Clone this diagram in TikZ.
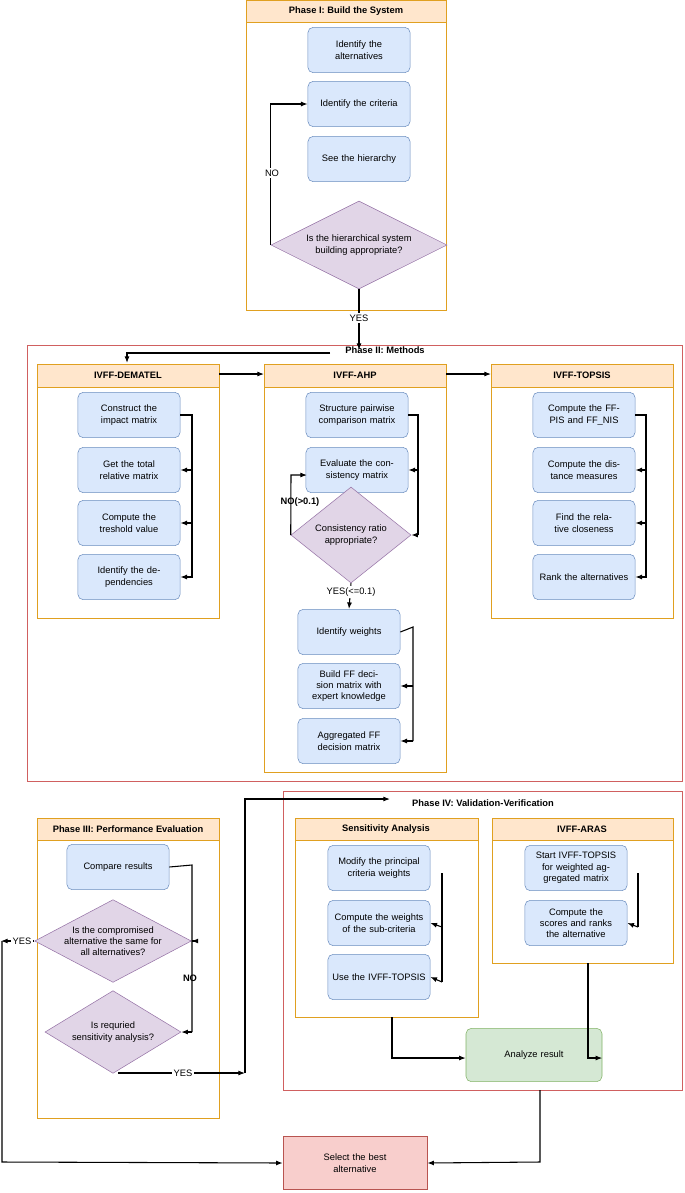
\documentclass[tikz,border=0pt]{standalone}
\usepackage{fontspec}
\setmainfont{Liberation Sans}
\usetikzlibrary{shapes.geometric,arrows.meta,positioning}
\definecolor{stepfill}{HTML}{DAE8FC}
\definecolor{stepline}{HTML}{6C8EBF}
\definecolor{askfill}{HTML}{E1D5E7}
\definecolor{askline}{HTML}{9673A6}
\definecolor{lanefill}{HTML}{FFE6CC}
\definecolor{laneline}{HTML}{E0A020}
\definecolor{phaseline}{HTML}{D06060}
\definecolor{endfill}{HTML}{F8CECC}
\definecolor{endline}{HTML}{B85450}
\definecolor{resfill}{HTML}{D5E8D4}
\definecolor{resline}{HTML}{82B366}
\tikzset{
  task/.style={draw=stepline,fill=stepfill,rounded corners=4pt,minimum width=75pt,minimum height=34pt,text width=70pt,align=center,font=\fontsize{7}{8.5}\selectfont},
  ask/.style={diamond,draw=askline,fill=askfill,aspect=2,inner sep=0pt,align=center,font=\fontsize{7}{8.5}\selectfont},
  lane/.style={draw=laneline},
  head/.style={draw=laneline,fill=lanefill,font=\fontsize{7}{8.5}\selectfont\bfseries},
  flow/.style={-{Latex[length=5pt]},thick},
  lbl/.style={fill=white,inner sep=1pt,font=\fontsize{7}{8.5}\selectfont}
}
\begin{document}
\begin{tikzpicture}[x=0.75pt,y=-0.75pt]
\useasboundingbox (0,0) rectangle (685,1193);
% phase I
\draw[lane] (246,0) rectangle (446,310);
\draw[head] (246,0) rectangle (446,22);
\node[font=\fontsize{7}{8.5}\selectfont\bfseries] at (346,11) {Phase I: Build the System};
\node[task] (alt) at (359,50) {Identify the alternatives};
\node[task] (crit) at (359,104) {Identify the criteria};
\node[task] (hier) at (359,159) {See the hierarchy};
\node[ask,minimum width=132pt,minimum height=66pt] (sys) at (359,245) {Is the hierarchical system\\building appropriate?};
\draw[flow] (sys.west) -- ++(0,-141) -- (crit.west);
\node[lbl] at (272,173) {NO};
% phase II
\draw[phaseline] (27,345) rectangle (682,781);
\node[font=\fontsize{7}{8.5}\selectfont\bfseries] (ptwo) at (385,350) {Phase II: Methods};
\coordinate (split) at (359,350);
\draw[flow] (sys.south) -- (split);
\node[lbl] at (359,318) {YES};
\foreach \nm/\xx/\ttl/\bot in {dem/37/IVFF-DEMATEL/618,ahp/264/IVFF-AHP/772,top/491/IVFF-TOPSIS/618} {
  \draw[lane] (\xx,364) rectangle (\xx+182,\bot);
  \draw[head] (\xx,364) rectangle (\xx+182,387);
  \node[font=\fontsize{7}{8.5}\selectfont\bfseries] (\nm) at (\xx+91,375.5) {\ttl};
}
\draw[flow] (330,353) -- (127,353) -- (127,363);
\draw[flow] (219,374) -- (264,374);
\draw[flow] (446,374) -- (491,374);
% DEMATEL
\node[task] (d1) at (129,415) {Construct the impact matrix};
\node[task] (d2) at (129,470) {Get the total relative matrix};
\node[task] (d3) at (129,523) {Compute the treshold value};
\node[task] (d4) at (129,577) {Identify the dependencies};
\draw[thick] (d1.east) -- (192,415) -- (192,578);
\foreach \b in {d2,d3,d4} \draw[flow] (192,0 |- \b.east) -- (\b.east);
% TOPSIS
\node[task] (t1) at (584,415) {Compute the FF-PIS and FF\_NIS};
\node[task] (t2) at (584,470) {Compute the distance measures};
\node[task] (t3) at (584,523) {Find the relative closeness};
\node[task] (t4) at (584,577) {Rank the alternatives};
\draw[thick] (t1.east) -- (646,415) -- (646,578);
\foreach \b in {t2,t3,t4} \draw[flow] (646,0 |- \b.east) -- (\b.east);
% AHP
\node[task] (a1) at (357,415) {Structure pairwise comparison matrix};
\node[task] (a2) at (357,470) {Evaluate the consistency matrix};
\node[ask,minimum width=90pt,minimum height=72pt] (cr) at (351,535) {Consistency ratio\\appropriate?};
\draw[thick] (a1.east) -- (418,415) -- (418,535);
\draw[flow] (418,470) -- (a2.east);
\draw[flow] (418,535) -- (cr.east);
\draw[flow] (cr.west) -- (291,475) -- (307,475);
\node[font=\fontsize{7}{8.5}\selectfont\bfseries] at (300,502) {NO(>0.1)};
\node[task] (w1) at (349,632) {Identify weights};
\node[task] (w2) at (349,686) {Build FF decision matrix with expert knowledge};
\node[task] (w3) at (349,741) {Aggregated FF decision matrix};
\draw[flow] (cr.south) -- (w1.north);
\node[lbl] at (351,592) {YES(<=0.1)};
\draw[thick] (w1.east) -- (413,627) -- (413,741);
\foreach \b in {w2,w3} \draw[flow] (413,0 |- \b.east) -- (\b.east);
% phase III
\draw[lane] (37,818) rectangle (219,1118);
\draw[head] (37,818) rectangle (219,840);
\node[font=\fontsize{7}{8.5}\selectfont\bfseries] at (128,829) {Phase III: Performance Evaluation};
\node[task] (cmp) at (118,867) {Compare results};
\node[ask,minimum width=102pt,minimum height=62pt] (same) at (113,941) {Is the compromised\\alternative the same for\\all alternatives?};
\node[ask,minimum width=102pt,minimum height=62pt] (sens) at (113,1032) {Is requried\\sensitivity analysis?};
\draw[thick] (cmp.east) -- (192,865) -- (192,1032);
\draw[flow] (192,941) -- (same.east);
\draw[flow] (192,1032) -- (sens.east);
\node[font=\fontsize{7}{8.5}\selectfont\bfseries] at (190,978) {NO};
% phase IV
\draw[phaseline] (283,791) rectangle (682,1090);
\node[font=\fontsize{7}{8.5}\selectfont\bfseries] (pfour) at (483,803) {Phase IV: Validation-Verification};
\draw[lane] (295,818) rectangle (478,1017);
\draw[head] (295,818) rectangle (478,840);
\node[font=\fontsize{7}{8.5}\selectfont\bfseries] at (386,829) {Sensitivity Analysis};
\draw[lane] (492,818) rectangle (673,963);
\draw[head] (492,818) rectangle (673,840);
\node[font=\fontsize{7}{8.5}\selectfont\bfseries] at (582,829) {IVFF-ARAS};
\node[task] (s1) at (379,868) {Modify the principal criteria weights};
\node[task] (s2) at (379,923) {Compute the weights of the sub-criteria};
\node[task] (s3) at (379,977) {Use the IVFF-TOPSIS};
\draw[thick] (442,873) -- (442,982);
\draw[flow] (442,927) -- (s2.east);
\draw[flow] (442,982) -- (s3.east);
\node[task] (r1) at (576,868) {Start IVFF-TOPSIS for weighted aggregated matrix};
\node[task] (r2) at (576,923) {Compute the scores and ranks the alternative};
\draw[thick] (638,873) -- (638,927);
\draw[flow] (638,927) -- (r2.east);
\node[task,draw=resline,fill=resfill,minimum width=102pt,minimum height=40pt] (res) at (534,1055) {Analyze result};
\draw[flow] (392,1017) -- (392,1058) -- (res.west |- 0,1058);
\draw[flow] (588,963) -- (588,1058) -- (res.east |- 0,1058);
% to phase IV and final
\draw[flow] (118,1073) -- (245,1073);
\node[lbl] at (183,1073) {YES};
\draw[flow] (245,1073) -- (245,799) -- (390,799);
\node[task,rounded corners=0pt,draw=endline,fill=endfill,minimum width=108pt,minimum height=40pt] (best) at (355,1163) {Select the best alternative};
\draw[flow] (same.west) -- (1,941);
\node[lbl] at (22,941) {YES};
\draw[flow] (2,941) -- (2,1162) -- (best.west);
\draw[flow] (540,1090) -- (540,1162) -- (best.east);
\end{tikzpicture}
\end{document}
